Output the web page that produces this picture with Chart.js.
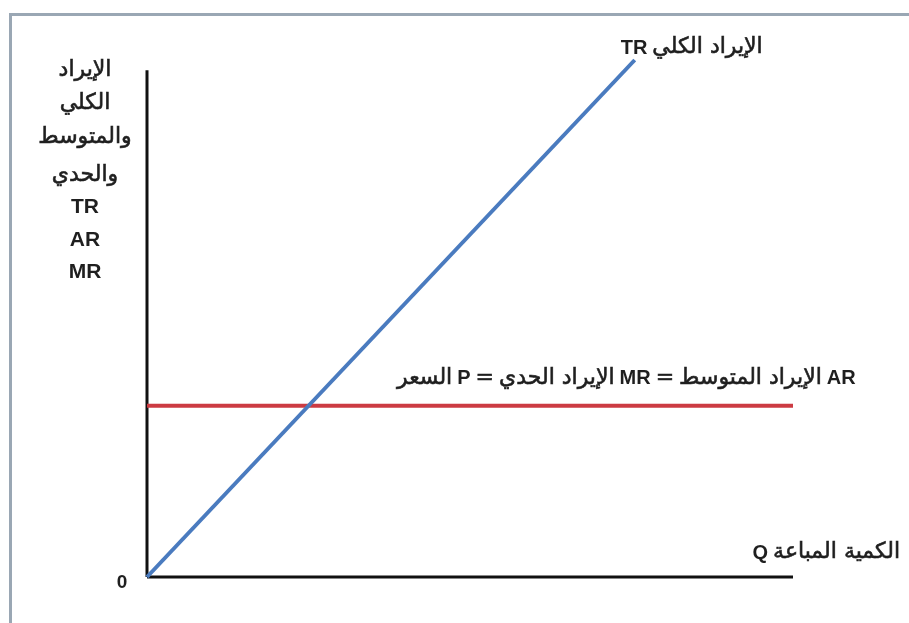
<!DOCTYPE html>
<html lang="ar">
<head>
<meta charset="utf-8">
<script src="https://cdn.jsdelivr.net/npm/chart.js@4.4.1/dist/chart.umd.min.js"></script>
<style>
  html, body { margin: 0; padding: 0; background: #ffffff; }
  #wrap { position: relative; width: 909px; height: 623px; overflow: hidden; background: #ffffff; }
  #frameTop { position: absolute; left: 9px; top: 13px; width: 900px; height: 3px; background: #9aa7b4; }
  #frameLeft { position: absolute; left: 9px; top: 13px; width: 3px; height: 610px; background: #9aa7b4; }
  canvas { position: absolute; left: 0; top: 0; }
</style>
</head>
<body>
<div id="wrap">
  <div id="frameTop"></div>
  <div id="frameLeft"></div>
  <canvas id="c" width="909" height="623"></canvas>
</div>
<script>
// ---- data ----
const trQuantity = [0, 7.55];          // quantity sold Q
const trValues = [0, 100];             // total revenue TR
const mrQuantity = [0, 10];
const mrValues = [33.1, 33.1];         // P = MR = AR
const yAxisQuantity = [0, 0];
const yAxisValues = [0, 98];
const xAxisQuantity = [0, 10];
const xAxisValues = [0, 0];

const trLabel = ['الإيراد الكلي', 'TR'];
const mrLabelParts = [
  ['السعر', false], ['P', true], ['=', false], ['الإيراد الحدي', false],
  ['MR', true], ['=', false], ['الإيراد المتوسط', false], ['AR', true]
];
const qLabel = ['الكمية المباعة', 'Q'];
const yTitleLines = ['الإيراد', 'الكلي', 'والمتوسط', 'والحدي', 'TR', 'AR', 'MR'];
const originLabel = '0';

function pts(xs, ys) { return xs.map((x, i) => ({ x: x, y: ys[i] })); }

const ARFONT = '"DejaVu Sans", "Liberation Sans", Arial, sans-serif';
const LATFONT = '"Liberation Sans", Arial, sans-serif';
const AR_STYLE = '22px ' + ARFONT;
const LAT_STYLE = 'bold 20px ' + LATFONT;

function arText(ctx, t, x, y) {
  ctx.fillText(t, x, y);
  ctx.strokeText(t, x, y);
}

const labelsPlugin = {
  id: 'labels',
  afterDatasetsDraw(chart) {
    const ctx = chart.ctx;
    const xs = chart.scales.x, ys = chart.scales.y;
    ctx.save();
    ctx.fillStyle = '#1f1f1f';
    ctx.strokeStyle = '#1f1f1f';
    ctx.lineWidth = 0.6;
    ctx.textBaseline = 'middle';

    // TR label near end of TR line
    let px = xs.getPixelForValue(trQuantity[1]) + 128;
    let py = ys.getPixelForValue(trValues[1]) - 13;
    ctx.font = AR_STYLE;
    ctx.textAlign = 'right';
    ctx.direction = 'rtl';
    arText(ctx, trLabel[0], px, py);
    const w1 = ctx.measureText(trLabel[0]).width;
    ctx.font = LAT_STYLE;
    ctx.direction = 'ltr';
    ctx.fillText(trLabel[1], px - w1 - 5, py + 1);

    // MR label: visual order left to right
    px = xs.getPixelForValue(mrQuantity[0]) + 250;
    py = ys.getPixelForValue(mrValues[0]) - 28;
    let cx = px;
    mrLabelParts.forEach(([t, bold]) => {
      ctx.font = bold ? LAT_STYLE : AR_STYLE;
      ctx.direction = bold ? 'ltr' : 'rtl';
      ctx.textAlign = 'left';
      if (bold) ctx.fillText(t, cx, py + 1); else arText(ctx, t, cx, py);
      cx += ctx.measureText(t).width + 5;
    });

    // Q label at end of x axis
    px = xs.getPixelForValue(xAxisQuantity[1]) + 107;
    py = ys.getPixelForValue(0) - 25;
    ctx.font = AR_STYLE;
    ctx.direction = 'rtl';
    ctx.textAlign = 'right';
    arText(ctx, qLabel[0], px, py);
    const wq = ctx.measureText(qLabel[0]).width;
    ctx.font = LAT_STYLE;
    ctx.direction = 'ltr';
    ctx.fillText(qLabel[1], px - wq - 5, py + 1);

    // origin
    ctx.font = 'bold 19px ' + LATFONT;
    ctx.textAlign = 'center';
    ctx.fillText(originLabel, xs.getPixelForValue(0) - 25, ys.getPixelForValue(0) + 6);

    // y title
    const tx = xs.getPixelForValue(0) - 62;
    const tys = [70, 103, 137, 175, 207, 240, 272];
    yTitleLines.forEach((t, i) => {
      const latin = /^[A-Z]+$/.test(t);
      ctx.font = latin ? 'bold 21px ' + LATFONT : AR_STYLE;
      ctx.direction = latin ? 'ltr' : 'rtl';
      ctx.textAlign = 'center';
      if (latin) ctx.fillText(t, tx, tys[i]); else arText(ctx, t, tx, tys[i]);
    });
    ctx.restore();
  }
};

new Chart(document.getElementById('c'), {
  type: 'scatter',
  data: {
    datasets: [
      { label: 'Y axis', data: pts(yAxisQuantity, yAxisValues), showLine: true, borderColor: '#111111', borderWidth: 3, pointRadius: 0, clip: false, order: 3 },
      { label: 'X axis', data: pts(xAxisQuantity, xAxisValues), showLine: true, borderColor: '#111111', borderWidth: 3, pointRadius: 0, clip: false, order: 3 },
      { label: 'MR', data: pts(mrQuantity, mrValues), showLine: true, borderColor: '#cc3b42', borderWidth: 4, pointRadius: 0, clip: false, order: 2 },
      { label: 'TR', data: pts(trQuantity, trValues), showLine: true, borderColor: '#4a7bbf', borderWidth: 4, pointRadius: 0, clip: false, order: 1 }
    ]
  },
  options: {
    responsive: false,
    devicePixelRatio: 1,
    animation: false,
    layout: { padding: { left: 147, right: 116, top: 60, bottom: 46 } },
    plugins: { legend: { display: false }, tooltip: { enabled: false }, title: { display: false } },
    scales: {
      x: { type: 'linear', min: 0, max: 10, display: false },
      y: { type: 'linear', min: 0, max: 100, display: false }
    }
  },
  plugins: [labelsPlugin]
});
</script>
</body>
</html>
